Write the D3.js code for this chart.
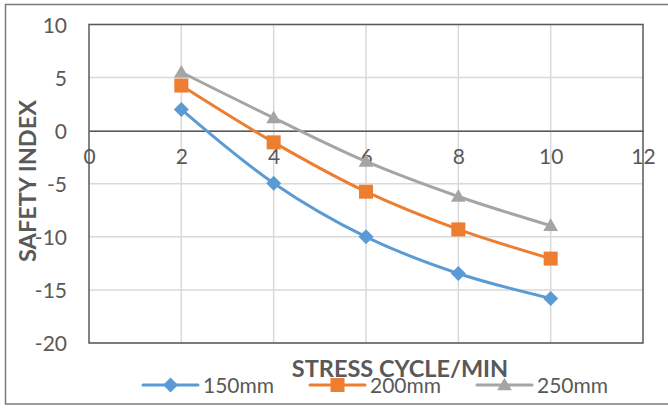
<!DOCTYPE html>
<html>
<head>
<meta charset="utf-8">
<script src="https://cdn.jsdelivr.net/npm/d3@7/dist/d3.min.js"></script>
<style>
  html, body { margin: 0; padding: 0; background: #fff; }
  svg { display: block; font-family: Lato, "Open Sans", sans-serif; }
</style>
</head>
<body>
<svg id="chart" width="668" height="408"></svg>
<script>
// Stress cycle per minute (x) and safety index per specimen size
const stressCycles = [2, 4, 6, 8, 10];
const series150 = [2.0, -4.95, -10.0, -13.45, -15.8];
const series200 = [4.25, -1.1, -5.75, -9.3, -12.05];
const series250 = [5.5, 1.2, -2.9, -6.2, -8.95];
const seriesNames = ["150mm", "200mm", "250mm"];
const seriesColors = ["#5B9BD5", "#ED7D31", "#A5A5A5"];
const seriesShapes = ["diamond", "square", "triangle"];
const xTicks = [0, 2, 4, 6, 8, 10, 12];
const yTicks = [-20, -15, -10, -5, 0, 5, 10];

const svg = d3.select("#chart");
const W = 668, H = 408;
const plot = { left: 89, right: 643, top: 24.5, bottom: 343 };

const x = d3.scaleLinear().domain([0, 12]).range([plot.left, plot.right]);
const y = d3.scaleLinear().domain([-20, 10]).range([plot.bottom, plot.top]);

// plain hyphen-minus for negative tick labels
const fmt = d => String(d);

// outer chart frame
svg.append("rect")
  .attr("x", 5.5).attr("y", 4.5)
  .attr("width", W + 10).attr("height", 399.5)
  .attr("fill", "#fff").attr("stroke", "#7a7a7a").attr("stroke-width", 1.5);

// gridlines
const grid = svg.append("g");
grid.selectAll("line.h").data(yTicks).join("line")
  .attr("x1", plot.left).attr("x2", plot.right)
  .attr("y1", d => y(d)).attr("y2", d => y(d))
  .attr("stroke", "#d9d9d9").attr("stroke-width", 1.5);
grid.selectAll("line.v").data(xTicks.slice(1, -1)).join("line")
  .attr("y1", plot.top).attr("y2", plot.bottom)
  .attr("x1", d => x(d)).attr("x2", d => x(d))
  .attr("stroke", "#d9d9d9").attr("stroke-width", 1.5);

// plot area border
svg.append("rect")
  .attr("x", plot.left).attr("y", plot.top)
  .attr("width", plot.right - plot.left).attr("height", plot.bottom - plot.top)
  .attr("fill", "none").attr("stroke", "#595959").attr("stroke-width", 1.5);

// y axis with tick labels
const yAxis = d3.axisLeft(y).tickValues(yTicks).tickFormat(fmt).tickSize(0).tickPadding(22);
const gy = svg.append("g").attr("transform", `translate(${plot.left},0)`).call(yAxis);
gy.select(".domain").remove();
gy.selectAll("text").attr("font-size", 21).attr("fill", "#595959")
  .attr("font-family", "Lato, sans-serif").attr("dy", "0.36em");

// x axis drawn along y = 0
const xAxis = d3.axisBottom(x).tickValues(xTicks).tickFormat(fmt).tickSize(0).tickPadding(18);
const gx = svg.append("g").attr("transform", `translate(0,${y(0)})`).call(xAxis);
gx.select(".domain").attr("stroke", "#595959").attr("stroke-width", 1.5);
gx.selectAll("text").attr("font-size", 21).attr("fill", "#595959")
  .attr("font-family", "Lato, sans-serif");

// symbol paths centred on 0,0
function symbolPath(shape, s) {
  if (shape === "diamond") return `M0,${-s}L${s},0L0,${s}L${-s},0Z`;
  if (shape === "square") return `M${-s},${-s}H${s}V${s}H${-s}Z`;
  return `M0,${-s * 1.05}L${s * 1.05},${s * 0.75}L${-s * 1.05},${s * 0.75}Z`;
}
const symbolSize = { diamond: 7.5, square: 7, triangle: 7 };

const allSeries = [series150, series200, series250];
const line = d3.line()
  .x((d, i) => x(stressCycles[i]))
  .y(d => y(d))
  .curve(d3.curveCatmullRom.alpha(0.5));

allSeries.forEach((vals, k) => {
  const g = svg.append("g");
  g.append("path").datum(vals)
    .attr("d", line)
    .attr("fill", "none")
    .attr("stroke", seriesColors[k])
    .attr("stroke-width", 3)
    .attr("stroke-linejoin", "round");
  g.selectAll("path.m").data(vals).join("path")
    .attr("class", "m")
    .attr("transform", (d, i) => `translate(${x(stressCycles[i])},${y(d)})`)
    .attr("d", symbolPath(seriesShapes[k], symbolSize[seriesShapes[k]]))
    .attr("fill", seriesColors[k]);
});

// axis titles
svg.append("text")
  .attr("x", 400).attr("y", 377)
  .attr("text-anchor", "middle")
  .attr("font-size", 23.5).attr("font-weight", "bold").attr("fill", "#595959")
  .text("STRESS CYCLE/MIN");

svg.append("text")
  .attr("transform", `translate(36,181) rotate(-90)`)
  .attr("text-anchor", "middle")
  .attr("font-size", 23.5).attr("font-weight", "bold").attr("fill", "#595959")
  .text("SAFETY INDEX");

// legend
const legendX = [143, 310, 477];
const legend = svg.append("g");
seriesNames.forEach((name, k) => {
  const lg = legend.append("g").attr("transform", `translate(${legendX[k]},385)`);
  lg.append("line").attr("x1", 0).attr("x2", 55).attr("y1", 0).attr("y2", 0)
    .attr("stroke", seriesColors[k]).attr("stroke-width", 3).attr("stroke-linecap", "round");
  lg.append("path").attr("transform", "translate(27.5,0)")
    .attr("d", symbolPath(seriesShapes[k], symbolSize[seriesShapes[k]]))
    .attr("fill", seriesColors[k]);
  lg.append("text").attr("x", 60).attr("y", 8)
    .attr("font-size", 21).attr("fill", "#595959").text(name);
});
</script>
</body>
</html>
